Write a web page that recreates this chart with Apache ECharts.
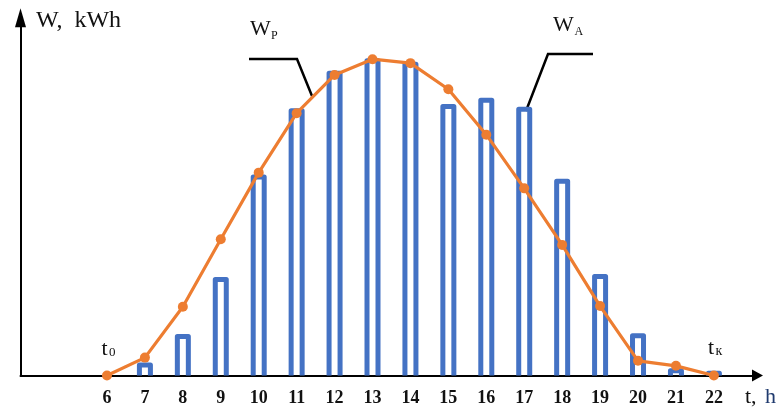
<!DOCTYPE html>
<html>
<head>
<meta charset="utf-8">
<script src="https://cdn.jsdelivr.net/npm/echarts@6/dist/echarts.min.js"></script>
<style>
  html, body { margin: 0; padding: 0; background: #fff; }
  #chart { width: 781px; height: 408px; }
</style>
</head>
<body>
<div id="chart"></div>
<script>
// hours on the time axis
const hours = [6, 7, 8, 9, 10, 11, 12, 13, 14, 15, 16, 17, 18, 19, 20, 21, 22]
// W_A : actual energy per hour (hollow bars)
const actual = [null, 2.9, 10.9, 26.8, 55.5, 74.0, 84.5, 88.0, 87.0, 75.2, 76.9, 74.4, 54.3, 27.7, 11.1, 1.3, 0.6]
// W_P : planned energy curve
const planned = [0, 5.0, 19.2, 38.1, 56.7, 73.3, 84.0, 88.4, 87.3, 80.0, 67.3, 52.3, 36.5, 19.4, 4.1, 2.7, 0]

const serif = 'Liberation Serif'
const chart = echarts.init(document.getElementById('chart'))

function renderBar (params, api) {
  const x = api.value(0)
  const v = api.value(1)
  if (v == null || isNaN(v)) return
  const base = api.coord([x, 0])
  const top = api.coord([x, v])
  const hw = 5.5
  return {
    type: 'polyline',
    shape: {
      points: [[base[0] - hw, base[1]], [base[0] - hw, top[1]], [base[0] + hw, top[1]], [base[0] + hw, base[1]]]
    },
    style: { stroke: '#4472C4', lineWidth: 5, fill: null, lineJoin: 'round' }
  }
}

function txt (text, left, y, size, color) {
  return {
    type: 'text',
    left: left,
    top: y - size / 2,
    style: { text: text, font: size + 'px "' + serif + '"', fill: color || '#111' }
  }
}

chart.setOption({
  animation: false,
  grid: { left: 20.5, right: 23.5, top: 17.7, bottom: 32.5 },
  xAxis: {
    type: 'value',
    min: 3.72,
    max: 23.15,
    splitLine: { show: false },
    axisTick: { show: false },
    axisLine: {
      onZero: false,
      symbol: ['none', 'triangle'],
      symbolSize: [12, 11],
      lineStyle: { color: '#000', width: 2 }
    },
    axisLabel: {
      customValues: hours,
      margin: 14,
      fontFamily: serif,
      fontWeight: 'bold',
      fontSize: 18,
      color: '#111'
    }
  },
  yAxis: {
    type: 'value',
    min: 0,
    max: 100,
    splitLine: { show: false },
    axisTick: { show: false },
    axisLabel: { show: false },
    axisLine: {
      show: true,
      symbol: ['none', 'triangle'],
      symbolSize: [11, 19],
      lineStyle: { color: '#000', width: 2 }
    }
  },
  series: [
    {
      name: 'WA',
      type: 'custom',
      renderItem: renderBar,
      data: hours.map((h, i) => [h, actual[i]]),
      z: 2
    },
    {
      name: 'WP',
      type: 'line',
      data: hours.map((h, i) => [h, planned[i]]),
      symbol: 'circle',
      symbolSize: 10,
      lineStyle: { color: '#ED7D31', width: 3.2 },
      itemStyle: { color: '#ED7D31' },
      z: 3
    }
  ],
  graphic: [
    txt('W,  kWh', 36, 21, 24),
    txt('W', 250, 29.5, 22),
    txt('P', 271, 36, 12),
    txt('W', 553, 25.5, 22),
    txt('A', 574.5, 32, 12),
    txt('t', 101.5, 349, 22),
    txt('0', 109, 352.5, 13),
    txt('t', 708, 348, 22),
    txt('к', 715.5, 351.5, 14),
    txt('t,', 745, 397, 22),
    txt('h', 765, 397, 22, '#1F3A6E'),
    {
      type: 'polyline',
      shape: { points: [[249, 59], [297, 59], [312, 96]] },
      style: { stroke: '#000', lineWidth: 2.5, fill: null }
    },
    {
      type: 'polyline',
      shape: { points: [[593, 54], [548, 54], [526, 111]] },
      style: { stroke: '#000', lineWidth: 2.5, fill: null }
    }
  ]
})
</script>
</body>
</html>
